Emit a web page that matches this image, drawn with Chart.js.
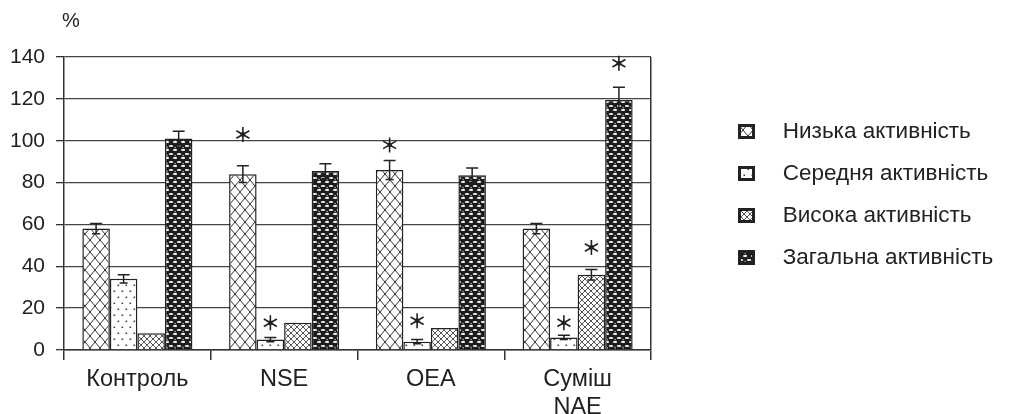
<!DOCTYPE html>
<html>
<head>
<meta charset="utf-8">
<script src="https://cdn.jsdelivr.net/npm/chart.js@4.4.1/dist/chart.umd.min.js"></script>
<style>
  html, body { margin: 0; padding: 0; background: #fff; }
</style>
</head>
<body>
<canvas id="chart" width="1013" height="414"></canvas>
<script>
// categories and series
const categories = ['Контроль', 'NSE', 'OEA', ['Суміш', 'NAE']];
const seriesNames = ['Низька активність', 'Середня активність', 'Висока активність', 'Загальна активність'];

// values (%)
const lowValues = [58, 84, 86, 58];
const mediumValues = [34, 5, 4, 6];
const highValues = [8, 13, 10.5, 36];
const totalValues = [101, 85.5, 83.5, 119.5];

// error bar half-widths
const lowErrors = [2.5, 4, 4.5, 2.5];
const mediumErrors = [2, 1, 1, 1];
const highErrors = [0, 0, 0, 2.5];
const totalErrors = [3.5, 3.5, 3.5, 6];

// where the asterisks sit (value on y axis), null = no mark
const lowStars = [null, 103, 98, null];
const mediumStars = [null, 13, 14, 13];
const highStars = [null, null, null, 49];
const totalStars = [null, null, null, 137];

const yTicks = [0, 20, 40, 60, 80, 100, 120, 140];

const ink = '#222';
const font = 'Liberation Sans, Arial, sans-serif';

// small tiles for the hatch fills
function makeTile(w, h, draw) {
    const c = document.createElement('canvas');
    c.width = w; c.height = h;
    draw(c.getContext('2d'), w, h);
    return c;
}

const tiles = [
    makeTile(10, 12, (g, w, h) => { // big cross hatch
        g.fillStyle = '#fff'; g.fillRect(0, 0, w, h);
        g.strokeStyle = '#333'; g.lineWidth = 1;
        g.beginPath();
        g.moveTo(0, 0); g.lineTo(w, h);
        g.moveTo(w, 0); g.lineTo(0, h);
        g.stroke();
    }),
    makeTile(8, 12, (g, w, h) => { // dots
        g.fillStyle = '#fff'; g.fillRect(0, 0, w, h);
        g.fillStyle = '#444';
        g.fillRect(1.5, 2.5, 1.6, 1.6);
        g.fillRect(5.5, 8.5, 1.6, 1.6);
    }),
    makeTile(6, 6, (g, w, h) => { // fine cross hatch
        g.fillStyle = '#fff'; g.fillRect(0, 0, w, h);
        g.strokeStyle = '#555'; g.lineWidth = 1;
        g.beginPath();
        g.moveTo(0, 0); g.lineTo(w, h);
        g.moveTo(w, 0); g.lineTo(0, h);
        g.stroke();
    }),
    makeTile(8, 8, (g, w, h) => { // dark with white dashes
        g.fillStyle = '#1c1c1c'; g.fillRect(0, 0, w, h);
        g.fillStyle = '#f4f4f4';
        g.beginPath();
        g.ellipse(3, 2, 2.2, 1, 0, 0, Math.PI * 2);
        g.ellipse(7, 6, 2.2, 1, 0, 0, Math.PI * 2);
        g.ellipse(-1, 6, 2.2, 1, 0, 0, Math.PI * 2);
        g.ellipse(9, 6, 2.2, 1, 0, 0, Math.PI * 2);
        g.fill();
    })
];

const ctx = document.getElementById('chart').getContext('2d');
const fills = tiles.map(t => ctx.createPattern(t, 'repeat'));

// legend icons: little framed swatches
const icons = tiles.map(t => makeTile(17, 15, (g, w, h) => {
    g.fillStyle = g.createPattern(t, 'repeat');
    g.fillRect(0, 0, w, h);
    g.strokeStyle = '#222'; g.lineWidth = 3;
    g.strokeRect(1.5, 1.5, w - 3, h - 3);
}));

const seriesValues = [lowValues, mediumValues, highValues, totalValues];
const seriesErrors = [lowErrors, mediumErrors, highErrors, totalErrors];
const seriesStars = [lowStars, mediumStars, highStars, totalStars];

const legendWidth = 362;
const legendInset = 51;   // gap between plot edge and legend items
const legendLift = 41;    // legend sits a bit above the middle

// widen the legend box so the plot ends where the original did
const legendSpace = {
    id: 'legendSpace',
    beforeInit(chart) {
        const legend = chart.legend;
        const fit = legend.fit;
        legend.fit = function () {
            fit.call(this);
            this.width = legendWidth;
        };
        const draw = legend.draw;
        legend.draw = function () {
            const l = this.left, t = this.top, b = this.bottom;
            this.left += legendInset;
            this.top -= legendLift;
            this.bottom -= legendLift;
            draw.call(this);
            this.left = l; this.top = t; this.bottom = b;
        };
    }
};

const marks = {
    id: 'marks',
    afterDatasetsDraw(chart) {
        const y = chart.scales.y;
        const g = chart.ctx;
        g.save();
        g.strokeStyle = ink;
        chart.data.datasets.forEach((ds, i) => {
            const meta = chart.getDatasetMeta(i);
            meta.data.forEach((bar, j) => {
                const v = seriesValues[i][j];
                const e = seriesErrors[i][j];
                if (e) {
                    const top = y.getPixelForValue(v + e);
                    const bot = y.getPixelForValue(v - e);
                    g.lineWidth = 1.5;
                    g.beginPath();
                    g.moveTo(bar.x, bot); g.lineTo(bar.x, top);
                    g.moveTo(bar.x - 6, top); g.lineTo(bar.x + 6, top);
                    g.moveTo(bar.x - 4, bot); g.lineTo(bar.x + 4, bot);
                    g.stroke();
                }
                const s = seriesStars[i][j];
                if (s !== null) {
                    const cy = y.getPixelForValue(s);
                    const r = 7.5;
                    g.lineWidth = 1.6;
                    g.beginPath();
                    [90, 30, 150].forEach(a => {
                        const rad = a * Math.PI / 180;
                        g.moveTo(bar.x - r * Math.cos(rad), cy - r * Math.sin(rad));
                        g.lineTo(bar.x + r * Math.cos(rad), cy + r * Math.sin(rad));
                    });
                    g.stroke();
                    g.fillStyle = ink;
                    g.beginPath();
                    g.arc(bar.x, cy, 2.4, 0, Math.PI * 2);
                    g.fill();
                }
            });
        });
        // the % sign above the axis
        g.fillStyle = ink;
        g.font = '20px ' + font;
        g.textAlign = 'left';
        g.textBaseline = 'middle';
        g.fillText('%', y.right - 2, 21);
        g.restore();
    }
};

new Chart(ctx, {
    type: 'bar',
    data: {
        labels: categories,
        datasets: seriesNames.map((name, i) => ({
            label: name,
            data: seriesValues[i],
            backgroundColor: fills[i],
            borderColor: ink,
            borderWidth: 1.5,
            categoryPercentage: 0.75,
            barPercentage: 1.0
        }))
    },
    options: {
        responsive: false,
        animation: false,
        events: [],
        layout: { padding: { top: 57, left: 0, right: 0, bottom: 0 } },
        scales: {
            x: {
                afterFit: s => { s.height = 64; },
                grid: {
                    offset: true,
                    color: c => c.type === 'scale' ? '#333' : 'rgba(0,0,0,0)',
                    tickColor: '#333',
                    tickLength: 10,
                    lineWidth: 1.5
                },
                border: { display: true, color: '#333', width: 1.5 },
                ticks: {
                    color: ink,
                    padding: 5,
                    font: { family: font, size: 23.5, lineHeight: 1.2 }
                }
            },
            y: {
                min: 0,
                max: 140,
                afterFit: s => { s.width = 64; },
                afterBuildTicks: s => { s.ticks = yTicks.map(v => ({ value: v })); },
                grid: {
                    color: '#444',
                    tickColor: '#333',
                    tickLength: 8,
                    lineWidth: 1.3
                },
                border: { display: true, color: '#333', width: 1.5 },
                ticks: {
                    color: ink,
                    padding: 11,
                    font: { family: font, size: 21 }
                }
            }
        },
        plugins: {
            tooltip: { enabled: false },
            legend: {
                position: 'right',
                align: 'center',
                labels: {
                    usePointStyle: true,
                    pointStyleWidth: 50,
                    padding: 19.5,
                    color: ink,
                    font: { family: font, size: 22.5 },
                    generateLabels(chart) {
                        const items = Chart.defaults.plugins.legend.labels.generateLabels(chart);
                        items.forEach((it, i) => { it.pointStyle = icons[i]; });
                        return items;
                    }
                }
            }
        }
    },
    plugins: [legendSpace, marks]
});
</script>
</body>
</html>
